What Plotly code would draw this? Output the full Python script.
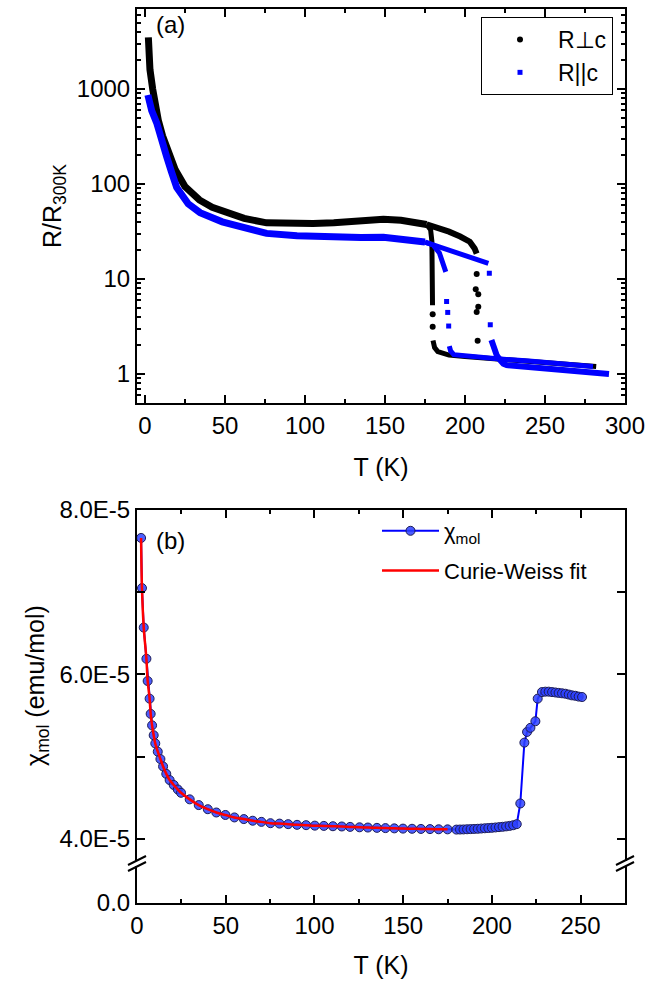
import plotly.graph_objects as go

# ---------------- panel (a) data: R/R300K vs T ----------------
# R perpendicular c (black): common low-T curve
perp_T = [2.1, 2.5, 3.1, 4.8, 6.0, 8.3, 11.0, 14.6, 19.0, 25.0, 34.0, 42.0, 50.0, 62.0,
          76.0, 90.0, 105.0, 118.0, 135.0, 149.0, 160.0, 170.0, 176.0]
perp_R = [3500, 2400, 1600, 1000, 760, 470, 320, 210, 140, 94, 68, 57, 51, 43.5,
          39, 38.3, 38.5, 39, 41, 42.5, 41.5, 39.5, 37.5]
# cooling transition (~180 K)
perp_drop_T = [176.0, 178.5, 179.3, 179.5, 179.6, 179.7]
perp_drop_R = [37.5, 33, 25, 12, 7.5, 5.3]
perp_drop_sparse_T = [179.8, 179.8]
perp_drop_sparse_R = [4.25, 3.15]
perp_low_T = [180.0, 181.0, 183.0, 186.0, 190.0, 200.0, 220.0, 240.0, 260.0, 282.0]
perp_low_R = [2.25, 1.9, 1.72, 1.65, 1.58, 1.53, 1.45, 1.37, 1.29, 1.2]
# warming branch (~208 K)
perp_hi_T = [176.0, 183.0, 190.0, 197.0, 203.0, 206.0, 207.3]
perp_hi_R = [37.5, 35, 31.5, 28, 24.7, 21, 18.5]
perp_hi_sparse_T = [207.3, 206.7, 208.3, 208.3, 207.3, 207.9]
perp_hi_sparse_R = [11.3, 7.8, 6.9, 5.1, 4.5, 2.24]

# R parallel c (blue)
par_T = [1.8, 2.5, 4.2, 7.3, 10.0, 13.5, 16.5, 19.8, 27.0, 34.4, 48.3, 62.0, 76.0,
         95.0, 118.0, 135.0, 149.0, 160.0, 170.0, 175.0]
par_R = [865, 760, 590, 440, 295, 195, 135, 92, 62, 50, 40, 34.2, 30.2,
         28.5, 27.5, 27.3, 27.5, 26.4, 25.3, 24.5]
par_drop_T = [175.0, 180.0, 184.0, 186.5, 187.5, 188.0]
par_drop_R = [24.5, 22.8, 18.8, 14.5, 12.8, 11.9]
par_drop_sparse_T = [188.5, 189.2, 189.8]
par_drop_sparse_R = [5.8, 4.45, 3.2]
par_low_T = [190.2, 191.0, 193.0, 200.0, 220.0, 240.0, 260.0, 280.0]
par_low_R = [1.97, 1.75, 1.6, 1.55, 1.45, 1.37, 1.29, 1.2]
par_hi_T = [175.0, 185.0, 195.0, 203.0, 210.0, 214.6]
par_hi_R = [24.5, 21.5, 19.2, 17.5, 15.8, 14.6]
par_hi_sparse_T = [215.2, 215.8]
par_hi_sparse_R = [11.5, 3.3]
par_hi_low_T = [216.5, 217.5, 219.8, 222.0, 224.0, 226.0, 240.0, 260.0, 275.0, 290.0]
par_hi_low_R = [2.28, 1.95, 1.58, 1.4, 1.28, 1.24, 1.18, 1.11, 1.05, 1.0]

# ---------------- panel (b) data: chi_mol vs T ----------------
chi_T = [2.3, 2.8, 3.8, 5.3, 6.0, 7.1, 7.7, 8.5, 9.4, 10.3, 11.7, 13.2, 14.7, 16.5,
         18.4, 20.7, 23.0, 24.8, 29.7, 34.8, 39.9, 44.7, 49.8, 54.9, 60.2, 65.2,
         70.1, 75.2, 80.3, 85.2, 90.2, 95.3, 100.2, 105.3, 110.4, 115.4, 120.1,
         125.4, 130.1, 135.2, 140.0, 145.0, 149.9, 155.0, 160.0, 165.1, 170.0, 175.0,
         180, 182, 184, 186, 188, 190, 192, 194, 196, 198, 200, 202, 204, 206, 208,
         210, 212, 214,
         216.0, 218.3, 219.8, 221.7, 224.5, 225.8, 228.2, 230.1, 232.0, 233.9, 235.8,
         237.6, 239.5, 241.4, 243.3, 245.1, 247.0, 248.9, 250.8]
chi_val = [7.66, 7.05, 6.57, 6.19, 5.92, 5.705, 5.52, 5.38, 5.26, 5.16, 5.06, 4.97,
           4.88, 4.79, 4.715, 4.655, 4.60, 4.56, 4.48, 4.41, 4.36, 4.32, 4.29, 4.26,
           4.24, 4.22, 4.206, 4.19, 4.185, 4.178, 4.17, 4.166, 4.16, 4.157, 4.153,
           4.15, 4.145, 4.14, 4.137, 4.133, 4.13, 4.127, 4.124, 4.122, 4.12, 4.118,
           4.116, 4.115,
           4.112, 4.113, 4.114, 4.116, 4.118, 4.12, 4.122, 4.125, 4.128, 4.131, 4.134,
           4.138, 4.142, 4.146, 4.151, 4.157, 4.165, 4.178,
           4.43, 5.17, 5.30, 5.35, 5.43, 5.705, 5.785, 5.79, 5.79, 5.785, 5.78, 5.775,
           5.77, 5.765, 5.755, 5.745, 5.74, 5.73, 5.725]
chi_scale = 1e-5
fit_count = 48  # Curie-Weiss fit covers T <= 175 K

# tick labels
a_xticks = [0, 50, 100, 150, 200, 250, 300]
a_yticks = [1, 10, 100, 1000]
b_xticks = [0, 50, 100, 150, 200, 250]
b_yticks = [4e-5, 6e-5, 8e-5]
b_yticktext = ["4.0E-5", "6.0E-5", "8.0E-5"]

# ---------------- figure ----------------
FONT = "Liberation Sans, Arial, sans-serif"
BLACK = "black"
BLUE = "rgb(0,0,255)"

fig = go.Figure()

def band(x, y, color, width):
    fig.add_trace(go.Scatter(x=x, y=y, mode="lines", line=dict(color=color, width=width),
                             showlegend=False, hoverinfo="skip", xaxis="x", yaxis="y"))

def dots(x, y, color, symbol, size, name=None):
    fig.add_trace(go.Scatter(x=x, y=y, mode="markers",
                             marker=dict(color=color, symbol=symbol, size=size, line=dict(width=0)),
                             name=name or "", showlegend=name is not None, legend="legend",
                             xaxis="x", yaxis="y"))

# legend entries first
dots(perp_drop_sparse_T, perp_drop_sparse_R, BLACK, "circle", 6, "R\u22a5c")
dots(par_drop_sparse_T, par_drop_sparse_R, BLUE, "square", 5, "R||c")

# black bands
band(perp_T, perp_R, BLACK, 7)
band(perp_drop_T, perp_drop_R, BLACK, 5)
band(perp_low_T, perp_low_R, BLACK, 5)
band(perp_hi_T, perp_hi_R, BLACK, 6)
dots(perp_hi_sparse_T, perp_hi_sparse_R, BLACK, "circle", 6)
# blue bands
band(par_T, par_R, BLUE, 7)
band(par_drop_T, par_drop_R, BLUE, 5)
band(par_low_T, par_low_R, BLUE, 5)
band(par_hi_T, par_hi_R, BLUE, 5)
band(par_hi_low_T, par_hi_low_R, BLUE, 6)
dots(par_hi_sparse_T, par_hi_sparse_R, BLUE, "square", 5)

# panel (b)
chi_y = [v * chi_scale for v in chi_val]
fig.add_trace(go.Scatter(x=chi_T, y=chi_y, mode="lines+markers", name="\u03c7<sub>mol</sub>",
                         line=dict(color=BLUE, width=2), legendgroup="chi",
                         marker=dict(size=9, color="rgba(45,65,255,0.85)",
                                     line=dict(color="#1c1c55", width=1)),
                         xaxis="x2", yaxis="y2", legend="legend2"))
fig.add_trace(go.Scatter(x=chi_T[:fit_count], y=chi_y[:fit_count], mode="lines",
                         name="Curie-Weiss fit", legendgroup="fit",
                         line=dict(color="red", width=2.5, shape="spline"),
                         xaxis="x2", yaxis="y2", legend="legend2"))
# empty traces so the lower (broken) y-axis segment and the top frame axis exist as subplots
fig.add_trace(go.Scatter(x=[None], y=[None], mode="markers", showlegend=False,
                         hoverinfo="skip", xaxis="x2", yaxis="y3"))
fig.add_trace(go.Scatter(x=[None], y=[None], mode="markers", showlegend=False,
                         hoverinfo="skip", xaxis="x3", yaxis="y2"))

# geometry (pixels -> paper)
L, R, T, B = 137, 35, 9, 80
H = 983 - T - B
W = 660 - L - R
def py(p):
    return (983 - B - p) / H
def px(p):
    return (p - L) / W

axis_common = dict(showline=True, linewidth=2, linecolor="black", ticks="inside",
                   ticklen=8, tickwidth=2, tickcolor="black", showgrid=False, zeroline=False,
                   automargin=False,
                   tickfont=dict(family=FONT, size=24, color="black"))

fig.update_layout(
    template="none",
    width=660, height=983, margin=dict(l=L, r=R, t=T, b=B, autoexpand=False),
    paper_bgcolor="white", plot_bgcolor="rgba(0,0,0,0)",
    font=dict(family=FONT, size=24, color="black"),
    xaxis=dict(domain=[0, 1], anchor="y", range=[-5, 300], tickmode="array", tickvals=a_xticks,
               mirror="allticks",
               minor=dict(ticks="inside", ticklen=4, tickwidth=2, dtick=25, tick0=0, tickcolor="black"),
               title=dict(text="T (K)", font=dict(family=FONT, size=25), standoff=21),
               **axis_common),
    yaxis=dict(domain=[py(403), 1], anchor="x", type="log", range=[-0.305, 3.842],
               tickmode="array", tickvals=a_yticks, ticktext=[str(v) for v in a_yticks],
               mirror="allticks",
               minor=dict(ticks="inside", ticklen=4, tickwidth=1.5, dtick="D1", tickcolor="black"),
               title=dict(text="R/R<sub>300K</sub>", font=dict(family=FONT, size=25), standoff=8),
               **axis_common),
    xaxis2=dict(domain=[0, 1], anchor="y3", range=[0, 275], tickmode="array", tickvals=b_xticks,
                minor=dict(ticks="inside", ticklen=4, tickwidth=2, dtick=25, tick0=0, tickcolor="black"),
                title=dict(text="T (K)", font=dict(family=FONT, size=25), standoff=19),
                **axis_common),
    xaxis3=dict(domain=[0, 1], anchor="y2", side="top", range=[0, 275], tickmode="array",
                overlaying="x2", tickvals=b_xticks, showticklabels=False,
                minor=dict(ticks="inside", ticklen=4, tickwidth=2, dtick=25, tick0=0, tickcolor="black"),
                **axis_common),
    yaxis2=dict(domain=[py(861), py(510)], anchor="x2", range=[3.73e-5, 8.0e-5],
                tickmode="array", tickvals=b_yticks, ticktext=b_yticktext, mirror="allticks",
                minor=dict(ticks="inside", ticklen=4, tickwidth=2, tickvals=[5e-5, 7e-5], tickcolor="black"),
                title=dict(text="\u03c7<sub>mol</sub> (emu/mol)", font=dict(family=FONT, size=25), standoff=8),
                **axis_common),
    yaxis3=dict(domain=[0, py(866)], anchor="x2", range=[0, 0.45e-5], tickmode="array",
                tickvals=[0], ticktext=["0.0"], mirror=True, **axis_common),
    legend=dict(x=px(481), y=py(17), xanchor="left", yanchor="top", bgcolor="white",
                bordercolor="black", borderwidth=1, itemwidth=66,
                font=dict(family=FONT, size=23)),
    legend2=dict(x=px(377), y=py(510), xanchor="left", yanchor="top", bgcolor="rgba(0,0,0,0)",
                 borderwidth=0, itemwidth=57, traceorder="grouped", tracegroupgap=8,
                 font=dict(family=FONT, size=22)),
    annotations=[
        dict(text="(a)", x=px(170), y=py(24), xref="paper", yref="paper", showarrow=False,
             xanchor="center", yanchor="middle", font=dict(family=FONT, size=24)),
        dict(text="(b)", x=px(170), y=py(540), xref="paper", yref="paper", showarrow=False,
             xanchor="center", yanchor="middle", font=dict(family=FONT, size=24)),
    ],
)

# axis-break marks
shapes = []
for xc in (137, 625):
    for dy in (-3, 3):
        shapes.append(dict(type="line", xref="paper", yref="paper",
                           x0=px(xc - 9), y0=py(868 + dy), x1=px(xc + 9), y1=py(859 + dy),
                           line=dict(color="black", width=2)))
fig.update_layout(shapes=shapes)

fig.write_html("out.html", config={"displayModeBar": False},
               post_script="document.body.style.margin='0';")
